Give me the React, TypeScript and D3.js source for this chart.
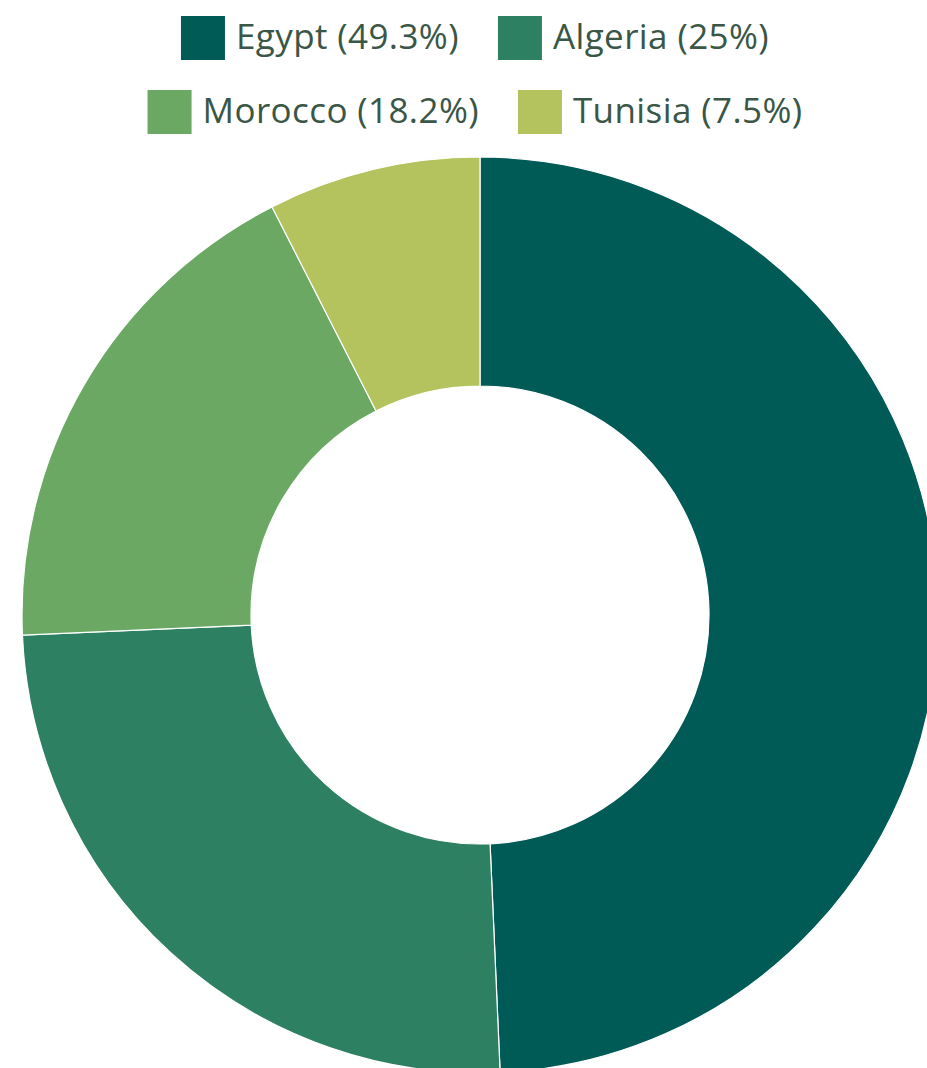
import React, { useEffect, useRef } from "react";
import * as d3 from "d3";

const countries = ["Egypt", "Algeria", "Morocco", "Tunisia"];
const shares = [49.3, 25, 18.2, 7.5];
const colors = ["#005a55", "#2e8063", "#6aa864", "#b5c35f"];
const legendRows = [[0, 1], [2, 3]];

const W = 927;
const H = 1068;

export default function App() {
  const ref = useRef<SVGSVGElement>(null);

  useEffect(() => {
    const svg = d3.select(ref.current);
    svg.selectAll("*").remove();

    const cx = 480, cy = 615, outerR = 458, innerR = 229;
    const pie = d3.pie<number>().sort(null).value((d) => d);
    const arc = d3.arc<d3.PieArcDatum<number>>().innerRadius(innerR).outerRadius(outerR);

    const g = svg.append("g").attr("transform", `translate(${cx},${cy})`);
    g.selectAll("path")
      .data(pie(shares))
      .enter()
      .append("path")
      .attr("d", arc as any)
      .attr("fill", (_, i) => colors[i])
      .attr("stroke", "#ffffff")
      .attr("stroke-width", 1.2);

    // Legend
    const sq = 44, textGap = 11, itemGap = 39, fontSize = 35;
    const rowY = [16, 90];
    const centerX = 475;
    legendRows.forEach((row, ri) => {
      const lg = svg.append("g");
      let x = 0;
      row.forEach((idx) => {
        const item = lg.append("g").attr("transform", `translate(${x},0)`);
        item.append("rect").attr("width", sq).attr("height", sq).attr("fill", colors[idx]);
        const t = item
          .append("text")
          .attr("x", sq + textGap)
          .attr("y", sq / 2)
          .attr("dy", "0.3em")
          .attr("font-family", "'Open Sans', sans-serif")
          .attr("font-size", fontSize)
          .attr("letter-spacing", 0.4)
          .attr("fill", "#3a5646")
          .text(`${countries[idx]} (${shares[idx]}%)`);
        const len = (t.node() as SVGTextElement).getComputedTextLength();
        x += sq + textGap + len + itemGap;
      });
      const total = x - itemGap;
      lg.attr("transform", `translate(${centerX - total / 2},${rowY[ri]})`);
    });
  }, []);

  return (
    <svg
      ref={ref}
      width={W}
      height={H}
      style={{ position: "absolute", left: 0, top: 0, background: "#ffffff" }}
    />
  );
}
